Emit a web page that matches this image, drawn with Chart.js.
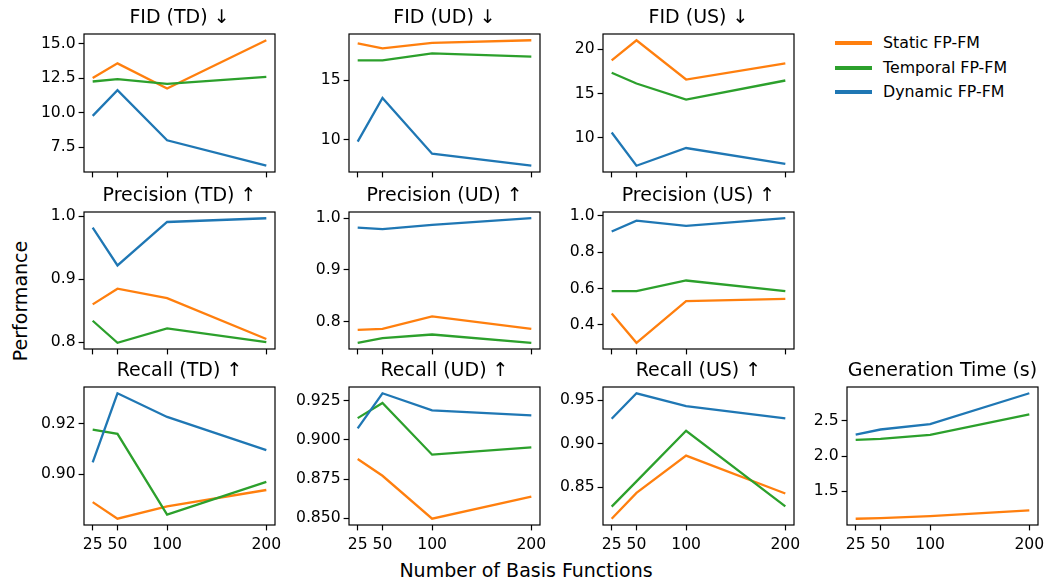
<!DOCTYPE html>
<html>
<head>
<meta charset="utf-8">
<script src="https://cdn.jsdelivr.net/npm/chart.js@4.4.1/dist/chart.umd.min.js"></script>
<style>
  body { margin: 0; background: #fff; width: 1047px; height: 585px; position: relative; overflow: hidden;
         font-family: 'DejaVu Sans', sans-serif; color: #000; }
  canvas { position: absolute; }
  .axis-label { position: absolute; font-size: 19px; line-height: 22px; white-space: nowrap; }
  .legend-row { position: absolute; left: 835px; height: 20px; font-size: 15.8px; line-height: 20px; white-space: nowrap; }
  .legend-row .swatch { position: absolute; left: 0; top: 8px; width: 37px; height: 4px; }
  .legend-row .text { position: absolute; left: 48px; top: 0; }
</style>
</head>
<body>
<div id="legend"></div>
<div class="axis-label" style="left:526px; top:559px; transform:translateX(-50%);">Number of Basis Functions</div>
<div class="axis-label" style="left:20px; top:301px; transform:translate(-50%,-50%) rotate(-90deg);">Performance</div>

<script>
// x axis: number of basis functions
const xValues = [25, 50, 100, 200];
const xTickLabels = ['25', '50', '100', '200'];

const seriesNames = ['Static FP-FM', 'Temporal FP-FM', 'Dynamic FP-FM'];
const seriesColors = ['#ff7f0e', '#2ca02c', '#1f77b4'];

// FID (TD)
const fidTDStatic   = [12.52, 13.59, 11.76, 15.27];
const fidTDTemporal = [12.27, 12.44, 12.10, 12.61];
const fidTDDynamic  = [9.77, 11.64, 7.99, 6.14];
const fidTDTicks = ['7.5', '10.0', '12.5', '15.0'];

// FID (UD)
const fidUDStatic   = [18.09, 17.67, 18.12, 18.34];
const fidUDTemporal = [16.66, 16.66, 17.25, 16.97];
const fidUDDynamic  = [9.86, 13.51, 8.85, 7.84];
const fidUDTicks = ['10', '15'];

// FID (US)
const fidUSStatic   = [18.75, 21.02, 16.59, 18.41];
const fidUSTemporal = [17.35, 16.14, 14.32, 16.48];
const fidUSDynamic  = [10.61, 6.86, 8.86, 7.08];
const fidUSTicks = ['10', '15', '20'];

// Precision (TD)
const precTDStatic   = [0.860, 0.885, 0.870, 0.805];
const precTDTemporal = [0.834, 0.799, 0.822, 0.800];
const precTDDynamic  = [0.982, 0.922, 0.991, 0.997];
const precTDTicks = ['0.8', '0.9', '1.0'];

// Precision (UD)
const precUDStatic   = [0.784, 0.786, 0.810, 0.786];
const precUDTemporal = [0.759, 0.768, 0.775, 0.759];
const precUDDynamic  = [0.982, 0.979, 0.987, 1.000];
const precUDTicks = ['0.8', '0.9', '1.0'];

// Precision (US)
const precUSStatic   = [0.462, 0.301, 0.530, 0.543];
const precUSTemporal = [0.585, 0.585, 0.644, 0.585];
const precUSDynamic  = [0.914, 0.974, 0.945, 0.987];
const precUSTicks = ['0.4', '0.6', '0.8', '1.0'];

// Recall (TD)
const recTDStatic   = [0.8889, 0.8823, 0.8872, 0.8937];
const recTDTemporal = [0.9177, 0.9160, 0.8839, 0.8969];
const recTDDynamic  = [0.9047, 0.9321, 0.9227, 0.9095];
const recTDTicks = ['0.90', '0.92'];

// Recall (UD)
const recUDStatic   = [0.8878, 0.8771, 0.8496, 0.8637];
const recUDTemporal = [0.9140, 0.9237, 0.8906, 0.8953];
const recUDDynamic  = [0.9074, 0.9299, 0.9190, 0.9158];
const recUDTicks = ['0.850', '0.875', '0.900', '0.925'];

// Recall (US)
const recUSStatic   = [0.8137, 0.8434, 0.8863, 0.8427];
const recUSTemporal = [0.8276, 0.8567, 0.9149, 0.8280];
const recUSDynamic  = [0.9288, 0.9581, 0.9434, 0.9292];
const recUSTicks = ['0.85', '0.90', '0.95'];

// Generation Time (s)
const genStatic   = [1.110, 1.119, 1.148, 1.229];
const genTemporal = [2.229, 2.243, 2.300, 2.590];
const genDynamic  = [2.305, 2.376, 2.452, 2.890];
const genTicks = ['1.5', '2.0', '2.5'];

const panels = [
  { title: 'FID (TD) \u2193',       row: 0, col: 0, series: [fidTDStatic, fidTDTemporal, fidTDDynamic], ticks: fidTDTicks },
  { title: 'FID (UD) \u2193',       row: 0, col: 1, series: [fidUDStatic, fidUDTemporal, fidUDDynamic], ticks: fidUDTicks },
  { title: 'FID (US) \u2193',       row: 0, col: 2, series: [fidUSStatic, fidUSTemporal, fidUSDynamic], ticks: fidUSTicks },
  { title: 'Precision (TD) \u2191', row: 1, col: 0, series: [precTDStatic, precTDTemporal, precTDDynamic], ticks: precTDTicks },
  { title: 'Precision (UD) \u2191', row: 1, col: 1, series: [precUDStatic, precUDTemporal, precUDDynamic], ticks: precUDTicks },
  { title: 'Precision (US) \u2191', row: 1, col: 2, series: [precUSStatic, precUSTemporal, precUSDynamic], ticks: precUSTicks },
  { title: 'Recall (TD) \u2191',    row: 2, col: 0, series: [recTDStatic, recTDTemporal, recTDDynamic], ticks: recTDTicks },
  { title: 'Recall (UD) \u2191',    row: 2, col: 1, series: [recUDStatic, recUDTemporal, recUDDynamic], ticks: recUDTicks },
  { title: 'Recall (US) \u2191',    row: 2, col: 2, series: [recUSStatic, recUSTemporal, recUSDynamic], ticks: recUSTicks },
  { title: 'Generation Time (s)',   row: 2, col: 3, series: [genStatic, genTemporal, genDynamic], ticks: genTicks }
];

// plot box geometry (matches the subplot grid)
const colLeft = [84, 349, 603, 847];
const rowTop = [34, 212, 387];
const rowHeight = [138, 137, 138];
const boxWidth = 191;
const yAxisWidth = 75;
const rightRoom = 25;
const titleHeight = 27;
const FONT = "'DejaVu Sans', sans-serif";

// full black frame around each plot area
const framePlugin = {
  id: 'frame',
  afterDatasetsDraw(chart) {
    const { ctx, chartArea: a } = chart;
    ctx.save();
    ctx.strokeStyle = '#000';
    ctx.lineWidth = 1.2;
    ctx.strokeRect(a.left, a.top, a.right - a.left, a.bottom - a.top);
    ctx.restore();
  }
};

function makePanel(p) {
  const bottomRow = p.row === 2;
  const xAxisHeight = bottomRow ? 34 : 10;
  const boxH = rowHeight[p.row];

  const canvas = document.createElement('canvas');
  canvas.width = yAxisWidth + boxWidth + rightRoom;
  canvas.height = titleHeight + boxH + xAxisHeight;
  canvas.style.left = (colLeft[p.col] - yAxisWidth) + 'px';
  canvas.style.top = (rowTop[p.row] - titleHeight) + 'px';
  document.body.appendChild(canvas);

  // matplotlib-like autoscale with 5% margins
  const all = p.series.flat();
  const lo = Math.min(...all), hi = Math.max(...all);
  const margin = (hi - lo) * 0.05;
  const xMargin = (xValues[xValues.length - 1] - xValues[0]) * 0.05;

  const datasets = p.series.map((vals, i) => ({
    label: seriesNames[i],
    data: xValues.map((x, j) => ({ x: x, y: vals[j] })),
    borderColor: seriesColors[i],
    backgroundColor: seriesColors[i],
    borderWidth: 2.3,
    pointRadius: 0,
    tension: 0,
    fill: false,
    order: 3 - i
  }));

  new Chart(canvas.getContext('2d'), {
    type: 'line',
    data: { datasets: datasets },
    options: {
      responsive: false,
      animation: false,
      devicePixelRatio: 1,
      layout: { padding: { left: 0, right: rightRoom, top: 0, bottom: 0 } },
      plugins: {
        legend: { display: false },
        tooltip: { enabled: false },
        title: {
          display: true,
          text: p.title,
          fullSize: false,
          color: '#000',
          font: { family: FONT, size: 19, weight: 'normal', lineHeight: 1.2 },
          padding: { top: 0, bottom: 4.2 }
        }
      },
      scales: {
        x: {
          type: 'linear',
          min: xValues[0] - xMargin,
          max: xValues[xValues.length - 1] + xMargin,
          border: { display: false },
          grid: { display: true, drawOnChartArea: false, drawTicks: true, tickLength: 5.4, tickWidth: 1.2, tickColor: '#000' },
          ticks: {
            autoSkip: false, maxRotation: 0, minRotation: 0, padding: 5,
            color: '#000', font: { family: FONT, size: 15.6 },
            callback: v => bottomRow ? xTickLabels[xValues.indexOf(v)] : ''
          },
          afterBuildTicks: s => { s.ticks = xValues.map(v => ({ value: v })); },
          afterFit: s => { s.height = xAxisHeight; s.paddingLeft = 0; s.paddingRight = 0; }
        },
        y: {
          type: 'linear',
          min: lo - margin,
          max: hi + margin,
          border: { display: false },
          grid: { display: true, drawOnChartArea: false, drawTicks: true, tickLength: 5.4, tickWidth: 1.2, tickColor: '#000' },
          ticks: {
            padding: 3, color: '#000', font: { family: FONT, size: 15.6 },
            callback: v => p.ticks.find(t => Math.abs(Number(t) - v) < 1e-9) || ''
          },
          afterBuildTicks: s => { s.ticks = p.ticks.map(t => ({ value: Number(t) })); },
          afterFit: s => { s.width = yAxisWidth; s.paddingTop = 0; s.paddingBottom = 0; }
        }
      }
    },
    plugins: [framePlugin]
  });
}

panels.forEach(makePanel);

// legend (top right, no frame)
const legendTops = [33, 57.5, 81.5];
const legend = document.getElementById('legend');
seriesNames.forEach((name, i) => {
  const row = document.createElement('div');
  row.className = 'legend-row';
  row.style.top = legendTops[i] + 'px';
  row.innerHTML = '<span class="swatch" style="background:' + seriesColors[i] + '"></span><span class="text">' + name + '</span>';
  legend.appendChild(row);
});
</script>
</body>
</html>
